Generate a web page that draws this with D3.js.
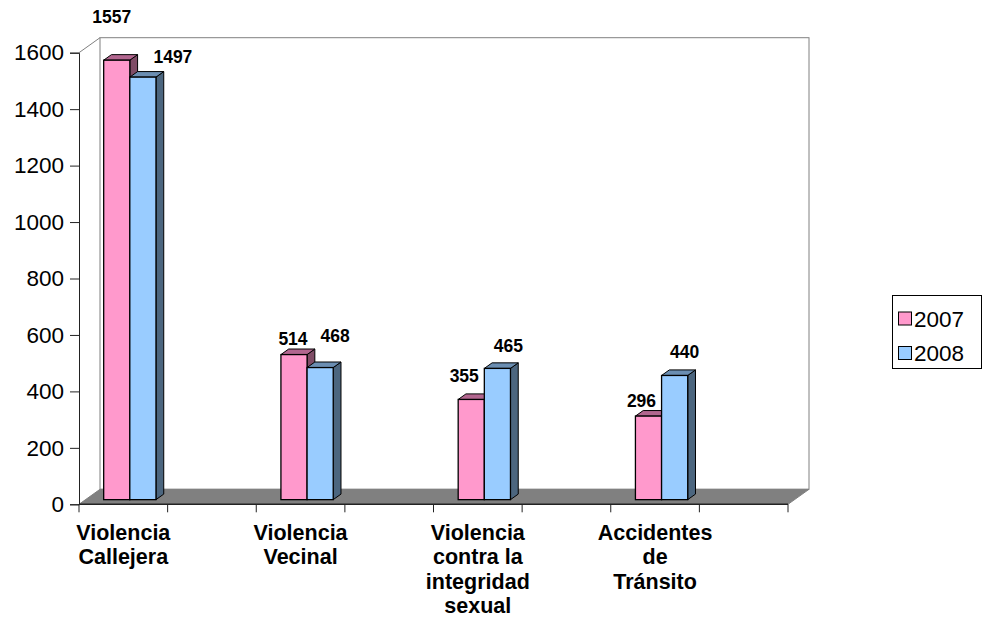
<!DOCTYPE html>
<html>
<head>
<meta charset="utf-8">
<script src="https://cdn.jsdelivr.net/npm/d3@7"></script>
<style>
  html, body { margin: 0; padding: 0; background: #fff; }
  svg { display: block; font-family: Arial, "Liberation Sans", sans-serif; }
</style>
</head>
<body>
<svg id="chart" width="983" height="627"></svg>
<script>
// ---- data ----
const categories = [
  "Violencia\nCallejera", "",
  "Violencia\nVecinal", "",
  "Violencia\ncontra la\nintegridad\nsexual", "",
  "Accidentes\nde\nTránsito", ""
];
const seriesNames = ["2007", "2008"];
const values2007 = [1557, null, 514, null, 355, null, 296, null];
const values2008 = [1497, null, 468, null, 465, null, 440, null];
const yTicks = [0, 200, 400, 600, 800, 1000, 1200, 1400, 1600];

// ---- layout ----
const svg = d3.select("#chart");
const x0 = 79, x1 = 788, yBottom = 504.3, yTop = 52.7;
const depthDx = 21, depthDy = -15;
const barFront = 0.31, barDepth = 0.37;

const y = d3.scaleLinear().domain([0, 1600]).range([yBottom, yTop]);
const x = d3.scaleBand().domain(d3.range(categories.length)).range([x0, x1]).paddingInner(0).paddingOuter(0);
const sub = d3.scaleBand().domain(seriesNames).range([0, x.bandwidth() * 0.59]);

const faces = {
  "2007": { front: "#FF99CC", top: "#B2668F", side: "#7F4C66" },
  "2008": { front: "#99CCFF", top: "#6B8EB2", side: "#4C667F" }
};

// back wall
svg.append("rect")
  .attr("x", x0 + depthDx).attr("y", y(1600) + depthDy)
  .attr("width", x1 - x0).attr("height", y(0) - y(1600))
  .attr("fill", "#fff").attr("stroke", "#808080").attr("stroke-width", 1);

// left wall top diagonal
svg.append("line")
  .attr("x1", x0).attr("y1", y(1600)).attr("x2", x0 + depthDx).attr("y2", y(1600) + depthDy)
  .attr("stroke", "#808080");

// floor
svg.append("polygon")
  .attr("points", [
    [x0, y(0)], [x1, y(0)], [x1 + depthDx, y(0) + depthDy], [x0 + depthDx, y(0) + depthDy]
  ].map(p => p.join(",")).join(" "))
  .attr("fill", "#808080").attr("stroke", "#808080");

// x axis front line + ticks
svg.append("line")
  .attr("x1", x0).attr("x2", x1).attr("y1", y(0)).attr("y2", y(0))
  .attr("stroke", "#222").attr("stroke-width", 1.5);
const tickXs = x.domain().map(d => x(d)).concat([x1]);
svg.selectAll(".xtick").data(tickXs).enter().append("line")
  .attr("x1", d => d).attr("x2", d => d)
  .attr("y1", y(0)).attr("y2", y(0) + 8)
  .attr("stroke", "#222");

// y axis
const yAxis = d3.axisLeft(y).tickValues(yTicks).tickSize(9).tickPadding(6).tickFormat(d3.format("d"));
const yg = svg.append("g").attr("transform", `translate(${x0},0)`).call(yAxis);
yg.select(".domain").attr("stroke", "#222");
yg.selectAll(".tick line").attr("stroke", "#222");
yg.selectAll(".tick text").attr("font-size", 22.5).attr("fill", "#000")
  .attr("font-family", "Arial, 'Liberation Sans', sans-serif");

// bars
const fdx = depthDx * barFront, fdy = depthDy * barFront;
const bdx = depthDx * barDepth, bdy = depthDy * barDepth;
const seriesVals = { "2007": values2007, "2008": values2008 };
const bars = [];
categories.forEach((c, i) => {
  seriesNames.forEach(s => {
    const v = seriesVals[s][i];
    if (v == null) return;
    const groupW = x.bandwidth() * 0.59;
    const left = x(i) + (x.bandwidth() - groupW) / 2 + sub(s) + fdx;
    const w = sub.bandwidth();
    const top = y(v) + fdy, bottom = y(0) + fdy;
    bars.push({ i, s, v, left, w, top, bottom });
  });
});
const barG = svg.append("g");
bars.forEach(b => {
  const f = faces[b.s];
  const g = barG.append("g");
  g.append("polygon").attr("points", [
    [b.left + b.w, b.top], [b.left + b.w + bdx, b.top + bdy],
    [b.left + b.w + bdx, b.bottom + bdy], [b.left + b.w, b.bottom]
  ].map(p => p.join(",")).join(" "))
    .attr("fill", f.side).attr("stroke", "#000").attr("stroke-width", 1).attr("stroke-linejoin", "round");
  g.append("polygon").attr("points", [
    [b.left, b.top], [b.left + bdx, b.top + bdy],
    [b.left + b.w + bdx, b.top + bdy], [b.left + b.w, b.top]
  ].map(p => p.join(",")).join(" "))
    .attr("fill", f.top).attr("stroke", "#000").attr("stroke-width", 1).attr("stroke-linejoin", "round");
  g.append("rect").attr("x", b.left).attr("y", b.top).attr("width", b.w).attr("height", b.bottom - b.top)
    .attr("fill", f.front).attr("stroke", "#000").attr("stroke-width", 1.3);
});

// value labels (nudges relative to bar top-centre, matching the original placement)
const labelNudge = {
  "0-2007": [-5, -37], "0-2008": [30, -14],
  "2-2007": [-1, -10], "2-2008": [15, -26],
  "4-2007": [-7, -17], "4-2008": [11, -16],
  "6-2007": [-7, -9],  "6-2008": [10, -17]
};
svg.append("g").selectAll("text").data(bars).enter().append("text")
  .attr("x", b => b.left + b.w / 2 + labelNudge[b.i + "-" + b.s][0])
  .attr("y", b => b.top + labelNudge[b.i + "-" + b.s][1])
  .attr("text-anchor", "middle").attr("font-weight", "bold").attr("font-size", 17.5)
  .attr("fill", "#000")
  .text(b => b.v);

// category labels
const catG = svg.append("g");
categories.forEach((c, i) => {
  if (!c) return;
  const t = catG.append("text")
    .attr("text-anchor", "middle").attr("font-weight", "bold").attr("font-size", 21.5)
    .attr("fill", "#000");
  c.split("\n").forEach((line, k) => {
    t.append("tspan").attr("x", x(i) + x.bandwidth() / 2).attr("y", 539.5 + k * 24.5).text(line);
  });
});

// legend
const lg = svg.append("g");
lg.append("rect").attr("x", 892.5).attr("y", 295.5).attr("width", 89).attr("height", 73)
  .attr("fill", "#fff").attr("stroke", "#000").attr("stroke-width", 1);
seriesNames.forEach((s, k) => {
  lg.append("rect").attr("x", 898.5).attr("y", 312 + k * 34.5).attr("width", 13).attr("height", 13)
    .attr("fill", faces[s].front).attr("stroke", "#000").attr("stroke-width", 1);
  lg.append("text").attr("x", 914).attr("y", 326.5 + k * 34).attr("font-size", 22.5).attr("fill", "#000").text(s);
});
</script>
</body>
</html>
